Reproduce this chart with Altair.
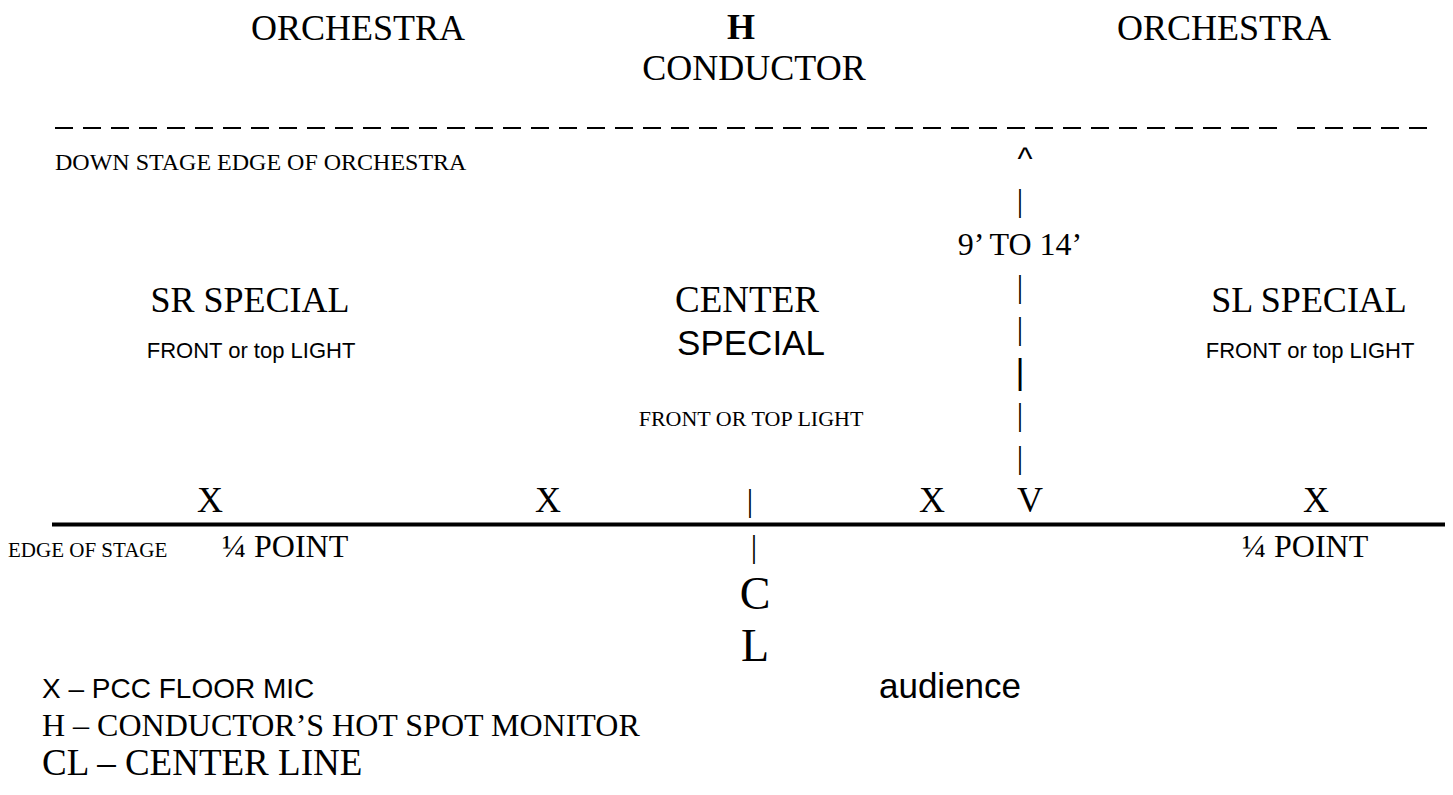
import altair as alt
import pandas as pd

SERIF = "Liberation Serif"
SANS_N = "'Liberation Sans Narrow', 'Arial Narrow', 'Liberation Sans'"
SANS = "Liberation Sans"
FAMILIES = {"serif": SERIF, "sansn": SANS_N, "sans": SANS}

label_text = [
    "ORCHESTRA", "H", "ORCHESTRA", "CONDUCTOR",
    "DOWN STAGE EDGE OF ORCHESTRA", "^",
    "|", "9\u2019 TO 14\u2019", "|", "|", "|", "|", "|",
    "SR SPECIAL", "CENTER", "SL SPECIAL",
    "FRONT or top LIGHT", "SPECIAL", "FRONT OR TOP LIGHT", "FRONT or top LIGHT",
    "X", "X", "|", "X", "V", "X",
    "EDGE OF STAGE", "\u00bc POINT", "\u00bc POINT",
    "|", "C", "L",
    "X \u2013 PCC FLOOR MIC", "audience",
    "H \u2013 CONDUCTOR\u2019S HOT SPOT MONITOR", "CL \u2013 CENTER LINE",
]
label_x = [
    358, 741, 1224, 754,
    55, 1025,
    1020, 1020, 1020, 1020, 1020, 1020, 1020,
    250, 747, 1309,
    251, 751, 751, 1310,
    210, 548, 750, 932, 1030, 1316,
    8, 222, 1242,
    754, 755, 755,
    42, 950,
    42, 42,
]
label_y = [
    40, 39, 40, 80,
    170, 169,
    211, 255, 297, 339, 384, 425, 468,
    312, 312, 312,
    358, 355, 426, 358,
    512, 512, 511, 512, 512, 512,
    557, 557, 557,
    557, 609, 661,
    698, 698,
    736, 775,
]
label_size = [
    36, 36, 36, 36,
    24, 32,
    32, 32, 32, 32, 35, 32, 32,
    36, 37, 36,
    22, 35, 22, 22,
    36, 36, 32, 36, 36, 36,
    21, 32, 32,
    32, 46, 46,
    28, 35,
    32, 37,
]
label_family = [
    "serif", "serif", "serif", "serif",
    "serif", "sans",
    "serif", "serif", "serif", "serif", "sans", "serif", "serif",
    "serif", "serif", "serif",
    "sansn", "sansn", "serif", "sansn",
    "serif", "serif", "serif", "serif", "serif", "serif",
    "serif", "serif", "serif",
    "serif", "serif", "serif",
    "sansn", "sans",
    "serif", "serif",
]
label_weight = ["normal"] * len(label_text)
label_weight[1] = "bold"
label_align = [
    "center", "center", "center", "center",
    "left", "center",
    "center", "center", "center", "center", "center", "center", "center",
    "center", "center", "center",
    "center", "center", "center", "center",
    "center", "center", "center", "center", "center", "center",
    "left", "left", "left",
    "center", "center", "center",
    "left", "center",
    "left", "left",
]

line_x = [55, 1297, 52]
line_x2 = [1278, 1430, 1445]
line_y = [128, 128, 524.5]
line_style = ["dash", "dash", "solid"]

labels = pd.DataFrame({
    "text": label_text, "x": label_x, "y": label_y, "size": label_size,
    "family": label_family, "weight": label_weight, "align": label_align,
})
lines = pd.DataFrame({"x": line_x, "x2": line_x2, "y": line_y, "style": line_style})

xs = alt.Scale(domain=[8, 1445], nice=False, zero=False)
ys = alt.Scale(domain=[8, 787], nice=False, zero=False, reverse=True)

layers = []
for style, dash, width in [("dash", [18, 10], 2), ("solid", [1, 0], 4)]:
    sub = lines[lines["style"] == style]
    layers.append(
        alt.Chart(sub).mark_rule(color="black", strokeWidth=width, strokeDash=dash).encode(
            x=alt.X("x:Q", scale=xs, axis=None),
            x2="x2:Q",
            y=alt.Y("y:Q", scale=ys, axis=None),
        )
    )

groups = labels.groupby(["family", "weight", "align"])
for (fam, wt, al), sub in groups:
    layers.append(
        alt.Chart(sub).mark_text(
            font=FAMILIES[fam], fontWeight=wt, align=al, baseline="alphabetic", color="black"
        ).encode(
            x=alt.X("x:Q", scale=xs, axis=None),
            y=alt.Y("y:Q", scale=ys, axis=None),
            text="text:N",
            size=alt.Size("size:Q", scale=None, legend=None),
        )
    )

chart = alt.layer(*layers).properties(
    width=1437, height=779, padding=0, autosize="none", background="white"
).configure_view(stroke=None)

chart.save("out.html", embed_options={"renderer": "svg", "actions": False})
